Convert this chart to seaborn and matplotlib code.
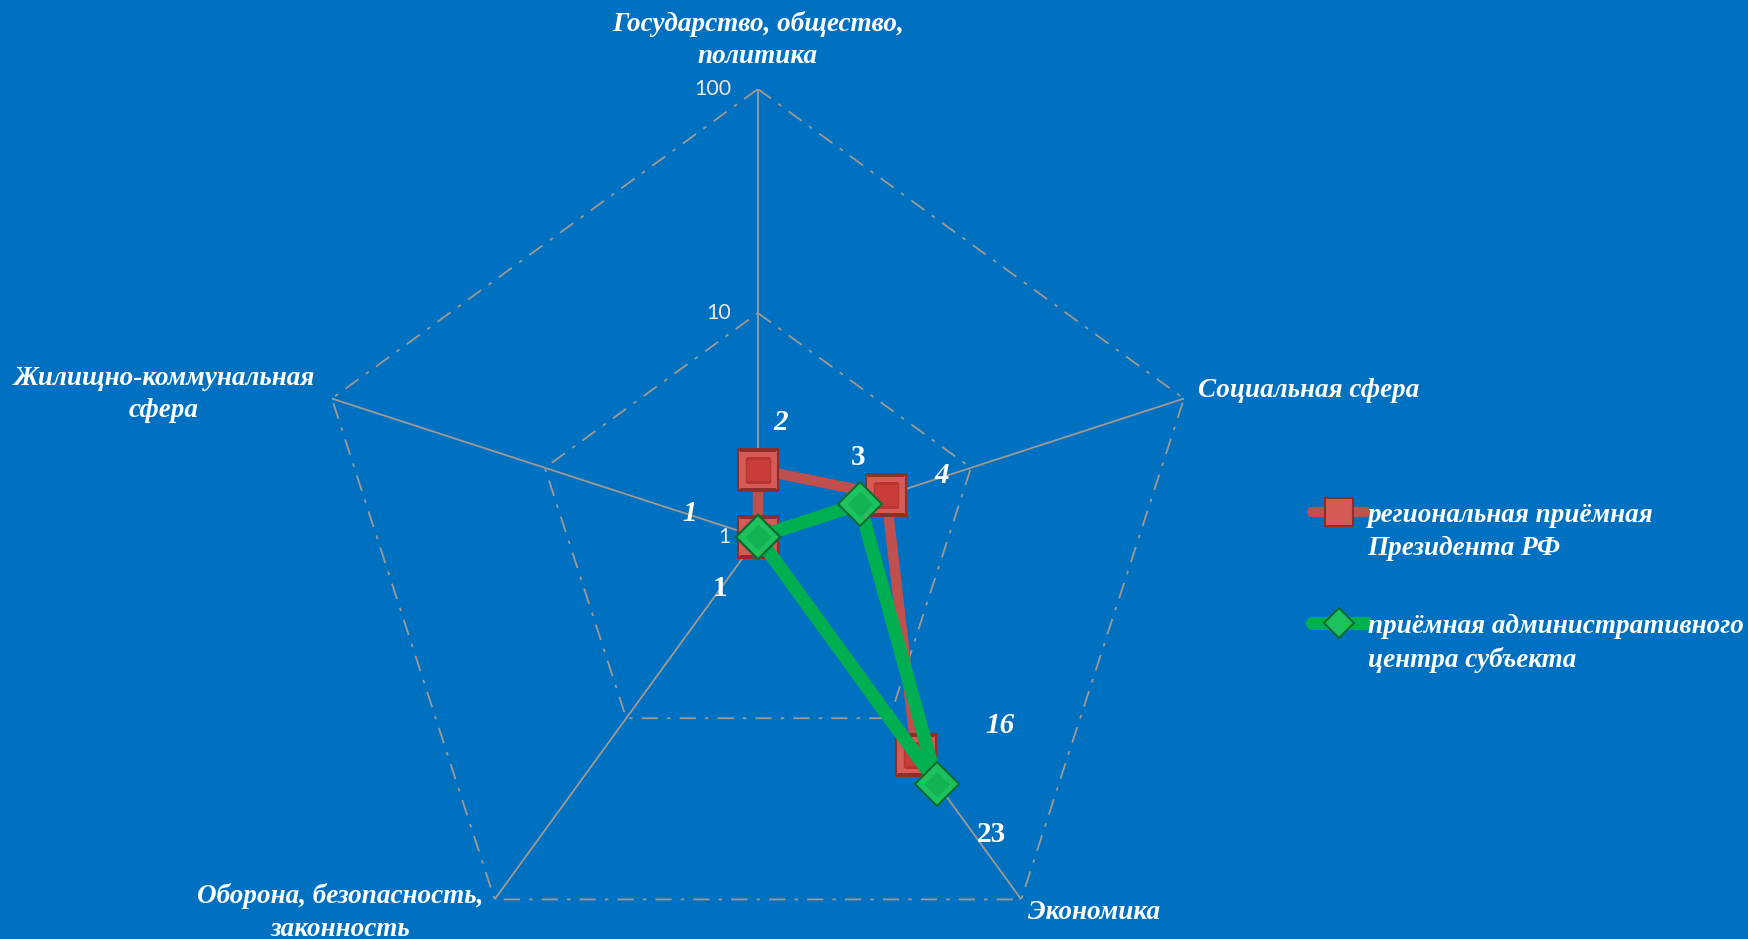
import numpy as np
import pandas as pd
import matplotlib
matplotlib.use('Agg')
import matplotlib.pyplot as plt
import seaborn as sns

# данные
categories = ['Государство, общество,\nполитика', 'Социальная сфера', 'Экономика',
              'Оборона, безопасность,\nзаконность', 'Жилищно-коммунальная\nсфера']
president = [2, 4, 16, 1, 1]
subject = [1, 3, 23, 1, 1]
series_names = ['региональная приёмная\nПрезидента РФ',
                'приёмная административного\nцентра субъекта']
r_ticks = [1, 10, 100]

# какие подписи данных видны (индекс категории)
president_shown = [0, 1, 2, 4]
subject_shown = [1, 2, 3]

sns.set_theme(style='white')
plt.rcParams['font.family'] = ['Liberation Serif', 'DejaVu Serif']

bg = '#0070C0'
grid_col = '#A09A92'
fig = plt.figure(figsize=(17.48, 9.39), dpi=100, facecolor=bg)
ax = fig.add_axes([0.1773, -0.049, 0.5126, 0.9542], projection='polar')
ax.set_facecolor('none')
ax.set_theta_zero_location('N')
ax.set_theta_direction(-1)
ax.set_rscale('log')
ax.set_rlim(1, 100)
ax.grid(False)
ax.set_xticks([])
ax.set_yticks([])
ax.spines['polar'].set_visible(False)

n = len(categories)
theta = np.arange(n) * 2 * np.pi / n
theta_closed = np.append(theta, 2 * np.pi)

# сетка: пятиугольники и лучи
for r in r_ticks[1:]:
    ax.plot(theta_closed, [r] * (n + 1), color=grid_col, lw=1.3,
            ls=(0, (9, 5, 2, 5)), zorder=1)
for t in theta:
    ax.plot([t, t], [1, 100], color=grid_col, lw=1.3, zorder=1)

# серии
df_p = pd.DataFrame({'theta': theta_closed, 'value': president + president[:1]})
df_s = pd.DataFrame({'theta': theta_closed, 'value': subject + subject[:1]})

sns.lineplot(data=df_p, x='theta', y='value', ax=ax, sort=False, estimator=None,
             color='#C0504D', lw=7.5, marker='s', markersize=29,
             markerfacecolor='#D65A55', markeredgecolor='#8C2F2C',
             markeredgewidth=1.5, zorder=3)
line_p = ax.lines[-1]
ax.plot(theta, president, ls='', marker='s', markersize=17,
        markerfacecolor='#C93C3A', markeredgecolor='#B83532', zorder=3.5)

sns.lineplot(data=df_s, x='theta', y='value', ax=ax, sort=False, estimator=None,
             color='#00B050', lw=9.5, marker='D', markersize=22,
             markerfacecolor='#1CC25E', markeredgecolor='#0B6B33',
             markeredgewidth=1.5, zorder=4)
line_s = ax.lines[-1]
ax.plot(theta, subject, ls='', marker='D', markersize=12,
        markerfacecolor='#12B352', markeredgecolor='#12B352', zorder=4.5)

if ax.get_legend() is not None:
    ax.get_legend().remove()

# подписи данных
p_off = {0: (23, 47), 1: (56, 20), 2: (83, 30), 4: (-68, 24)}
s_off = {1: (-2, 46), 2: (54, -51), 3: (-38, -51)}
for i in president_shown:
    ax.annotate(str(president[i]), xy=(theta[i], president[i]), xytext=p_off[i],
                textcoords='offset pixels', ha='center', va='center',
                color='white', fontsize=21, fontweight='bold', fontstyle='italic',
                zorder=6)
for i in subject_shown:
    ax.annotate(str(subject[i]), xy=(theta[i], subject[i]), xytext=s_off[i],
                textcoords='offset pixels', ha='center', va='center',
                color='white', fontsize=21, fontweight='bold', zorder=6)

# подписи шкалы
for r in r_ticks:
    ax.annotate(str(r), xy=(0, r), xytext=(-27, 0), textcoords='offset pixels',
                ha='right', va='center', color='#E8E8E8', fontsize=15.5,
                family=['Lato', 'DejaVu Sans'], zorder=6)

# подписи категорий
cat_pos = [((0, 49), 'center'), ((14, 8), 'left'), ((7, -13), 'left'),
           ((-154, -13), 'center'), ((-168, 4), 'center')]
for t, lab, (off, ha) in zip(theta, categories, cat_pos):
    ax.annotate(lab, xy=(t, 100), xytext=off, textcoords='offset pixels',
                ha=ha, va='center', multialignment='center', color='white',
                fontsize=19.5, fontweight='bold', fontstyle='italic',
                linespacing=1.4, annotation_clip=False)

leg = fig.legend(handles=[line_p, line_s], labels=series_names, loc='upper left',
                 bbox_to_anchor=(1312 / 1748, 1 - 503 / 939), frameon=False,
                 borderaxespad=0, borderpad=0,
                 prop={'size': 19.5, 'weight': 'bold', 'style': 'italic'},
                 labelcolor='white', handlelength=2.0, handletextpad=0.05,
                 labelspacing=1.95, markerscale=0.7)
for txt in leg.get_texts():
    txt.set_linespacing(1.4)
# маркер легенды на уровне первой строки
for col in leg._legend_handle_box.get_children():
    for entry in col.get_children():
        entry.align = 'top'

fig.savefig('out.png', dpi=100, facecolor=bg)
